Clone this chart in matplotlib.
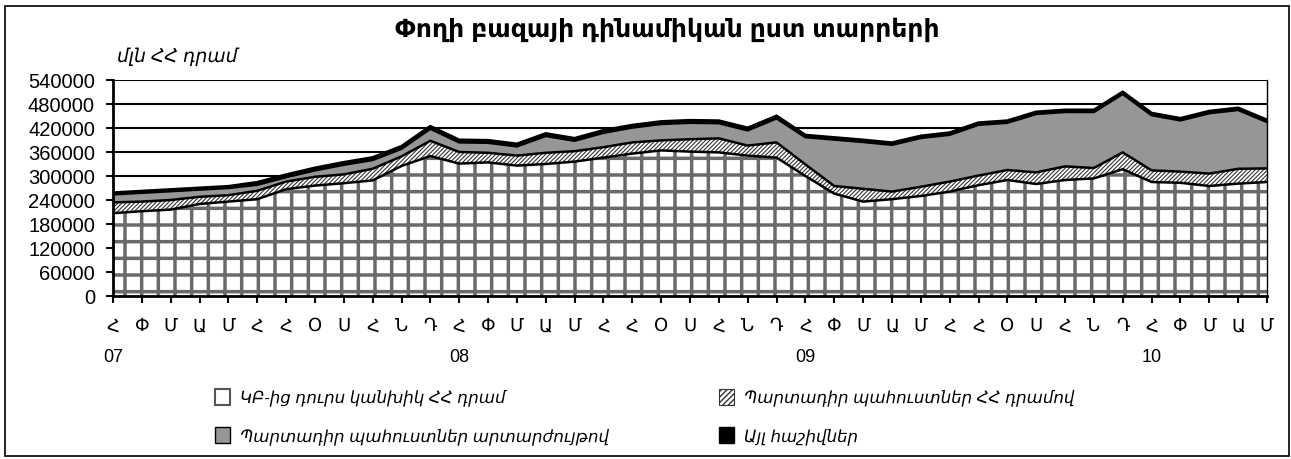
# Money base dynamics by component (chart recreation)
import numpy as np
import matplotlib.pyplot as plt
from matplotlib.patches import Patch, Rectangle

plt.rcParams['font.family'] = ['Liberation Sans', 'DejaVu Sans']

# Data (mln AMD), Jan 2007 - May 2010
months = ['Հ', 'Փ', 'Մ', 'Ա', 'Մ', 'Հ', 'Հ', 'Օ', 'Ս', 'Հ', 'Ն', 'Դ'] * 3 + ['Հ', 'Փ', 'Մ', 'Ա', 'Մ']
years = {0: '07', 12: '08', 24: '09', 36: '10'}

cash_outside = [207000, 212000, 216000, 230000, 236000, 242000, 267000, 276000, 282000, 289000,
                325000, 350000, 331000, 334000, 326000, 330000, 336000, 346000, 356000, 364000,
                361000, 359000, 351000, 346000, 300000, 256000, 236000, 242000, 250000, 261000,
                277000, 290000, 280000, 290000, 294000, 317000, 285000, 283000, 275000, 281000,
                285000]
reserves_amd = [27000, 24000, 24000, 18000, 16000, 21000, 19000, 22000, 22000, 29000,
                24000, 38000, 29000, 24000, 25000, 28000, 26000, 26000, 28000, 25000,
                31000, 35000, 25000, 38000, 29000, 19000, 32000, 19000, 23000, 25000,
                24000, 25000, 29000, 34000, 26000, 42000, 29000, 28000, 31000, 37000,
                34000]
reserves_fx = [20000, 22000, 22000, 18000, 18000, 15000, 11000, 16000, 24000, 22000,
               19000, 30000, 24000, 25000, 23000, 42000, 26000, 36000, 37000, 41000,
               41000, 38000, 38000, 60000, 68000, 116000, 117000, 117000, 122000, 117000,
               127000, 118000, 146000, 136000, 140000, 146000, 138000, 128000, 151000, 147000,
               116000]
other = [4000] * 5 + [6000] * 19 + [5000] * 17

labels = ['ԿԲ-ից դուրս կանխիկ ՀՀ դրամ',
          'Պարտադիր պահուստներ ՀՀ դրամով',
          'Պարտադիր պահուստներ արտարժույթով',
          'Այլ հաշիվներ']

x = np.arange(len(months))
layers = np.array([cash_outside, reserves_amd, reserves_fx, other])
tops = np.cumsum(layers, axis=0)
bottoms = np.vstack([np.zeros(len(x)), tops[:-1]])

fig = plt.figure(figsize=(12.91, 4.59), dpi=100)
fig.patches.append(Rectangle((5 / 1291, 3 / 459), 1284 / 1291, 450 / 459, transform=fig.transFigure,
                             fill=False, edgecolor='black', linewidth=1.2))
ax = fig.add_axes([113 / 1291, 1 - 296 / 459, 1154 / 1291, 216 / 459])

# horizontal grid
for v in range(60000, 540001, 60000):
    ax.axhline(v, color='black', linewidth=1.5, zorder=0)

# white area with grid pattern
ax.fill_between(x, bottoms[0], tops[0], facecolor='white', linewidth=0, zorder=1)
c = ax.fill_between(x, bottoms[0], tops[0], facecolor='none', edgecolor='#6a6a6a', hatch='+',
                    linewidth=0, zorder=1.1)
c.set_hatch_linewidth(2.5)
# hatched reserves in AMD
ax.fill_between(x, bottoms[1], tops[1], facecolor='white', linewidth=0, zorder=1)
c = ax.fill_between(x, bottoms[1], tops[1], facecolor='none', edgecolor='#333333', hatch='////////',
                    linewidth=0, zorder=1.1)
c.set_hatch_linewidth(0.8)
# reserves in fx and other
ax.fill_between(x, bottoms[2], tops[2], facecolor='#969696', linewidth=0, zorder=1)
ax.fill_between(x, bottoms[3], tops[3], facecolor='black', linewidth=0, zorder=1)

for t in tops[:3]:
    ax.plot(x, t, color='black', linewidth=1.8, zorder=2)
ax.plot(x, tops[3], color='black', linewidth=2.2, zorder=2)

ax.set_xlim(0, len(x) - 1)
ax.set_ylim(0, 540000)
ax.set_yticks(range(0, 540001, 60000))
ax.set_yticklabels([str(v) for v in range(0, 540001, 60000)], fontsize=14.5)
ax.set_xticks(x)
ax.set_xticklabels([m + ('\n' + years[i] if i in years else '') for i, m in enumerate(months)],
                   fontsize=13, linespacing=2.05, va='top')
ax.tick_params(axis='x', length=5, width=1.5, pad=11)
ax.tick_params(axis='y', length=5, width=1.5, pad=8)
ax.spines['top'].set_visible(False)
ax.spines['right'].set_linewidth(1)
ax.spines['left'].set_linewidth(2)
ax.spines['bottom'].set_linewidth(2)

fig.text(667 / 1291, 1 - 30 / 459, 'Փողի բազայի դինամիկան ըստ տարրերի', ha='center', va='center',
         fontsize=18, fontweight='bold')
fig.text(117 / 1291, 1 - 57 / 459, 'մլն ՀՀ դրամ', ha='left', va='center', fontsize=13.5, style='italic')

handles = [Patch(facecolor='white', edgecolor='#555555', linewidth=1.5),
           Patch(facecolor='white', edgecolor='#333333', hatch='//////', linewidth=0.8),
           Patch(facecolor='#969696', edgecolor='black', linewidth=1),
           Patch(facecolor='black', edgecolor='black', linewidth=1)]
order = [0, 2, 1, 3]
fig.legend([handles[i] for i in order], [labels[i] for i in order], ncol=2, loc='upper left',
           bbox_to_anchor=(200 / 1291, 1 - 374 / 459), frameon=False,
           prop={'size': 12, 'style': 'italic'}, handlelength=0.9, handleheight=1.1,
           handletextpad=0.6, columnspacing=6.6, labelspacing=1.25)

fig.savefig('out.png', dpi=100)
